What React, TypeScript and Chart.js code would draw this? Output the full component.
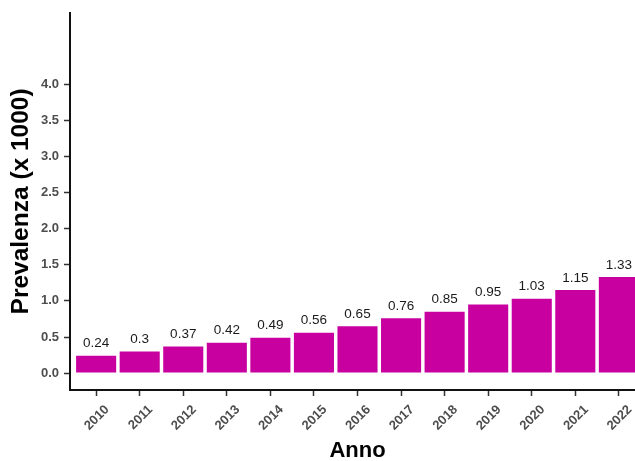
import React, { useEffect, useRef } from "react";
import { Chart, registerables } from "chart.js";

Chart.register(...registerables);

const years = ["2010", "2011", "2012", "2013", "2014", "2015", "2016", "2017", "2018", "2019", "2020", "2021", "2022"];
const prevalence = [0.24, 0.3, 0.37, 0.42, 0.49, 0.56, 0.65, 0.76, 0.85, 0.95, 1.03, 1.15, 1.33];
const yTicks = [0, 0.5, 1, 1.5, 2, 2.5, 3, 3.5, 4];
const yTitle = "Prevalenza (x 1000)";
const xTitle = "Anno";

const FONT = "'Liberation Sans', Arial, sans-serif";

const valueLabels = {
  id: "valueLabels",
  afterDatasetsDraw(chart: any) {
    const { ctx } = chart;
    const meta = chart.getDatasetMeta(0);
    ctx.save();
    ctx.font = `13.5px ${FONT}`;
    ctx.fillStyle = "#1a1a1a";
    ctx.textAlign = "center";
    ctx.textBaseline = "alphabetic";
    meta.data.forEach((bar: any, i: number) => {
      ctx.fillText(String(prevalence[i]), bar.x, bar.y - 8.5);
    });
    ctx.restore();
  },
};

export default function App() {
  const ref = useRef<HTMLCanvasElement | null>(null);
  useEffect(() => {
    if (!ref.current) return;
    const chart = new Chart(ref.current, {
      type: "bar",
      data: {
        datasets: [
          {
            data: years.map((y, i) => ({ x: Number(y), y: prevalence[i] })),
            backgroundColor: "#C7009F",
            borderWidth: 0,
            categoryPercentage: 1,
            barPercentage: 0.92,
          },
        ],
      },
      plugins: [valueLabels],
      options: {
        animation: false,
        responsive: false,
        events: [],
        layout: { padding: { top: 11, right: 0, left: 0, bottom: 0 } },
        plugins: { legend: { display: false }, tooltip: { enabled: false } },
        scales: {
          x: {
            type: "linear",
            min: 2009.4,
            max: 2022.6,
            offset: false,
            afterBuildTicks: (scale: any) => {
              scale.ticks = years.map((y) => ({ value: Number(y) }));
            },
            afterFit: (scale: any) => {
              scale.height = 71;
            },
            ticks: {
              autoSkip: false,
              maxRotation: 45,
              minRotation: 45,
              padding: 6,
              labelOffset: 11,
              color: "#4D4D4D",
              font: { family: FONT, size: 13, weight: "bold" },
              callback: (v: any) => String(v),
            },
            grid: {
              offset: false,
              drawOnChartArea: false,
              drawTicks: true,
              tickLength: 6,
              tickColor: "#333333",
              tickWidth: 1.5,
            },
            border: { display: true, color: "#111111", width: 2 },
            title: {
              display: true,
              text: xTitle,
              color: "#000000",
              font: { family: FONT, size: 22, weight: "bold", lineHeight: 0.8 },
              padding: { top: 0, bottom: 1 },
            },
          },
          y: {
            type: "linear",
            min: -0.234,
            max: 4.99,
            afterBuildTicks: (scale: any) => {
              scale.ticks = yTicks.map((v) => ({ value: v }));
            },
            afterFit: (scale: any) => {
              scale.width = 70;
            },
            ticks: {
              padding: 5,
              color: "#4D4D4D",
              font: { family: FONT, size: 13, weight: "bold" },
              callback: (v: any) => Number(v).toFixed(1),
            },
            grid: {
              drawOnChartArea: false,
              drawTicks: true,
              tickLength: 6,
              tickColor: "#333333",
              tickWidth: 1.5,
            },
            border: { display: true, color: "#111111", width: 2 },
            title: {
              display: true,
              text: yTitle,
              color: "#000000",
              font: { family: FONT, size: 24.5, weight: "bold", lineHeight: 1.2 },
              padding: { top: 7, bottom: 0 },
            },
          },
        },
      },
    });
    return () => chart.destroy();
  }, []);
  return (
    <div style={{ position: "absolute", left: 0, top: 0, width: 635, height: 461, overflow: "hidden", background: "#fff" }}>
      <canvas ref={ref} width={645} height={461} style={{ display: "block" }} />
    </div>
  );
}
